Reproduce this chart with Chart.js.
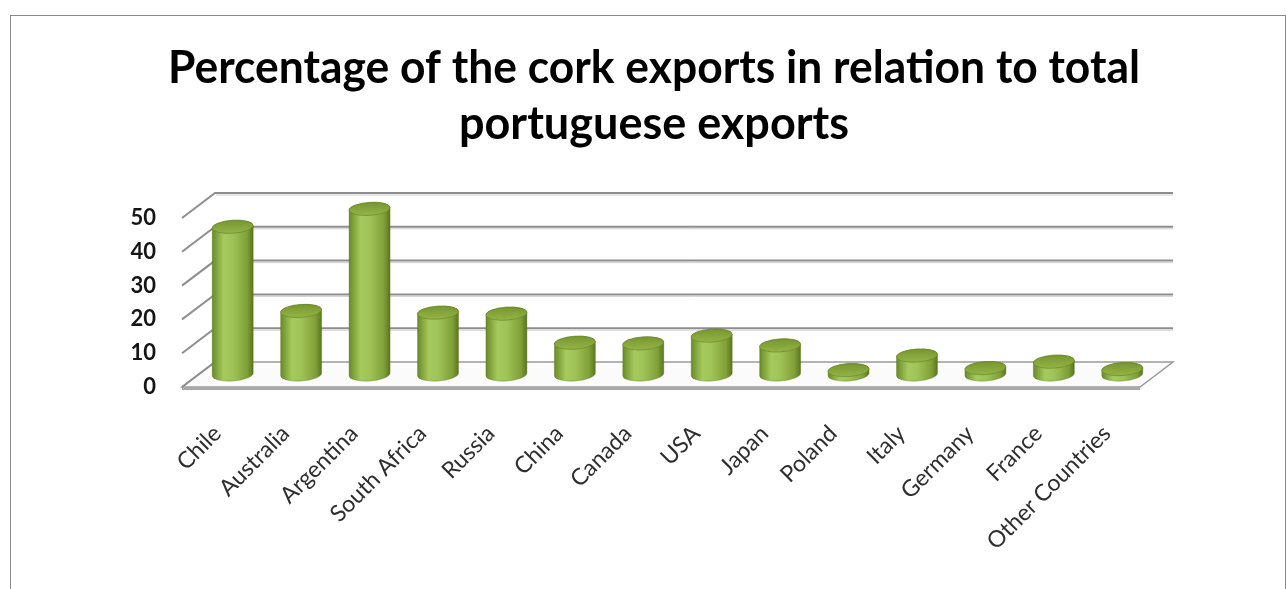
<!DOCTYPE html>
<html>
<head>
<meta charset="utf-8">
<title>Cork exports</title>
<script src="https://cdn.jsdelivr.net/npm/chart.js@4/dist/chart.umd.min.js"></script>
<style>
  html, body { margin: 0; padding: 0; background: #fff; overflow: hidden; }
  #frame {
    position: absolute; left: 10px; top: 15px;
    width: 1274px; height: 620px;
    border: 1px solid #8a8a8a;
  }
  #chart { position: absolute; left: 0; top: 0; }
</style>
</head>
<body>
<div id="frame"></div>
<canvas id="chart" width="1287" height="589"></canvas>
<script>
// ========== DATA ==========
const countries = [
  'Chile', 'Australia', 'Argentina', 'South Africa', 'Russia', 'China', 'Canada',
  'USA', 'Japan', 'Poland', 'Italy', 'Germany', 'France', 'Other Countries'
];
const exportShare = [43.7, 18.8, 49.0, 18.3, 18.0, 9.4, 9.2, 11.5, 8.6, 1.3, 5.6, 1.9, 3.8, 1.6];
const titleLines = ['Percentage of the cork exports in relation to total', 'portuguese exports'];

// ========== 3D LOOK ==========
// depth of the floor / back wall, in px (back wall sits up-right of the front plane)
const DEPTH_X = 33;
const DEPTH_Y = -25;
const Y_LABEL_GAP = 26;

function drawCylinder(ctx, cx, top, bot, rx, ry) {
  const rot = -0.07;
  const c = Math.cos(rot), s = Math.sin(rot);

  // body
  const body = ctx.createLinearGradient(cx - rx, 0, cx + rx, 0);
  body.addColorStop(0, '#6a8a27');
  body.addColorStop(0.28, '#a6ca5d');
  body.addColorStop(0.5, '#a0c357');
  body.addColorStop(0.85, '#80a038');
  body.addColorStop(1, '#5a761d');
  ctx.beginPath();
  ctx.moveTo(cx - rx * c, top - rx * s);
  ctx.lineTo(cx - rx * c, bot - rx * s);
  ctx.ellipse(cx, bot, rx, ry, rot, Math.PI, 0, true);
  ctx.lineTo(cx + rx * c, top + rx * s);
  ctx.ellipse(cx, top, rx, ry, rot, 0, Math.PI, true);
  ctx.closePath();
  ctx.fillStyle = body;
  ctx.fill();
  ctx.strokeStyle = 'rgba(85,110,30,0.45)';
  ctx.lineWidth = 0.8;
  ctx.stroke();

  // lid
  const lid = ctx.createLinearGradient(0, top - ry, 0, top + ry);
  lid.addColorStop(0, '#78962f');
  lid.addColorStop(1, '#93b447');
  ctx.beginPath();
  ctx.ellipse(cx, top, rx, ry, rot, 0, Math.PI * 2);
  ctx.fillStyle = lid;
  ctx.fill();
  ctx.strokeStyle = 'rgba(95,125,35,0.7)';
  ctx.lineWidth = 0.8;
  ctx.stroke();
}

const cylinder3d = {
  id: 'cylinder3d',
  beforeDatasetsDraw(chart) {
    const { ctx, chartArea, scales } = chart;
    const y = scales.y;
    const left = chartArea.left, right = chartArea.right;
    const y0 = y.getPixelForValue(0);

    ctx.save();
    // floor
    ctx.beginPath();
    ctx.moveTo(left, y0);
    ctx.lineTo(right, y0);
    ctx.lineTo(right + DEPTH_X, y0 + DEPTH_Y);
    ctx.lineTo(left + DEPTH_X, y0 + DEPTH_Y);
    ctx.closePath();
    ctx.fillStyle = '#fbfbfb';
    ctx.fill();
    ctx.strokeStyle = '#9a9a9a';
    ctx.lineWidth = 1.5;
    ctx.stroke();
    // floor front edge
    ctx.fillStyle = '#a8a8a8';
    ctx.fillRect(left, y0, right - left, 3);

    // back wall grid + side wall diagonals
    y.ticks.forEach(t => {
      const yf = y.getPixelForValue(t.value);
      const yb = yf + DEPTH_Y;
      ctx.lineWidth = 2;
      ctx.strokeStyle = '#8e8e8e';
      ctx.beginPath();
      ctx.moveTo(left, yf);
      ctx.lineTo(left + DEPTH_X, yb);
      if (t.value !== 0) ctx.lineTo(right + DEPTH_X, yb);
      ctx.stroke();
      if (t.value !== 0) {
        ctx.lineWidth = 1;
        ctx.strokeStyle = '#d0d0d0';
        ctx.beginPath();
        ctx.moveTo(left + DEPTH_X + 1, yb + 2);
        ctx.lineTo(right + DEPTH_X, yb + 2);
        ctx.stroke();
      }
    });

    // value labels on the front-left edge
    ctx.font = 'bold 22px Lato';
    ctx.fillStyle = '#151515';
    ctx.textAlign = 'right';
    ctx.textBaseline = 'middle';
    y.ticks.forEach(t => {
      ctx.fillText(String(t.value), left - Y_LABEL_GAP, y.getPixelForValue(t.value));
    });
    ctx.restore();
  },
  afterDatasetsDraw(chart) {
    const { ctx } = chart;
    const meta = chart.getDatasetMeta(0);
    ctx.save();
    meta.data.forEach(bar => {
      const { x, y, base, width } = bar.getProps(['x', 'y', 'base', 'width'], true);
      drawCylinder(ctx, x + DEPTH_X / 2, y + DEPTH_Y / 2, base + DEPTH_Y / 2, width / 2, 6.5);
    });
    ctx.restore();
  }
};

// ========== CHART ==========
new Chart(document.getElementById('chart'), {
  type: 'bar',
  data: {
    labels: countries,
    datasets: [{
      data: exportShare,
      backgroundColor: 'rgba(0,0,0,0)',
      borderWidth: 0,
      barPercentage: 0.6,
      categoryPercentage: 1
    }]
  },
  options: {
    responsive: false,
    animation: false,
    events: [],
    layout: { padding: { top: 0, left: 168, right: 147, bottom: 0 } },
    plugins: {
      legend: { display: false },
      tooltip: { enabled: false },
      title: {
        display: true,
        text: titleLines,
        color: '#000',
        font: { family: 'Lato', size: 45, weight: 'bold', lineHeight: '56px' },
        padding: { top: 40, bottom: 66 }
      }
    },
    scales: {
      x: {
        grid: { display: false },
        border: { display: false },
        afterFit(axis) { axis.height = 202; },
        ticks: {
          autoSkip: false,
          minRotation: 45,
          maxRotation: 45,
          padding: 25,
          labelOffset: 1,
          color: '#2e2e2e',
          font: { family: 'Lato', size: 23 }
        }
      },
      y: {
        min: 0,
        max: 50,
        grid: { display: false, drawTicks: false },
        border: { display: false },
        afterFit(axis) { axis.width = 14; },
        ticks: { stepSize: 10, display: false }
      }
    }
  },
  plugins: [cylinder3d]
});
</script>
</body>
</html>
